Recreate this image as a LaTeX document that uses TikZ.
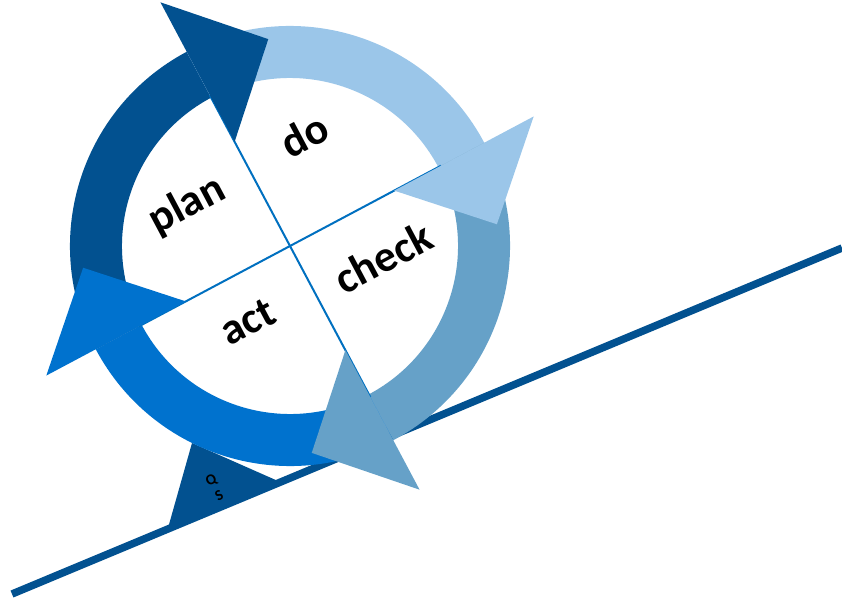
\documentclass[tikz,border=0pt]{standalone}
\usepackage{fontspec}
\setmainfont{Carlito}
\definecolor{plancol}{RGB}{2,81,144}
\definecolor{docol}{RGB}{155,198,233}
\definecolor{checkcol}{RGB}{102,161,200}
\definecolor{actcol}{RGB}{0,114,206}
\definecolor{crosscol}{RGB}{0,112,192}
\tikzset{
  word/.style={font=\fontsize{44}{44}\selectfont\bfseries, rotate=28, inner sep=0pt},
  crossline/.style={draw=crosscol, line width=2pt},
}
\begin{document}
\begin{tikzpicture}[x=1pt,y=1pt]
\useasboundingbox (0,0) rectangle (842,598);
% wedge under the cycle
\fill[plancol] (192,155) -- (168,70) -- (278,117) -- cycle;
% slope
\draw[plancol, line width=7.5pt] (12,4) -- (842,350);
\node[font=\fontsize{15}{18}\selectfont\bfseries, align=center, rotate=27, inner sep=0pt] (qs) at (215,110) {Q\\S};
\begin{scope}[shift={(290,352)}, rotate=28]
  \fill[white] (0,0) circle[radius=168];
  \foreach \b/\c in {90/plancol, 0/docol, -90/checkcol, 180/actcol}{
    \fill[\c] ({\b+90}:220) arc[start angle={\b+90}, end angle=\b, radius=220]
      -- (\b:168) arc[start angle=\b, end angle={\b+90}, radius=168] -- cycle;
  }
  \draw[crossline] (90:171) -- (270:171);
  \draw[crossline] (0:171) -- (180:171);
  \foreach \b/\c in {90/plancol, 0/docol, -90/checkcol, 180/actcol}{
    \fill[\c] (\b:118) -- (\b:276) -- ({\b-22}:208) -- cycle;
  }
  \node[word] (plan) at (-72,84) {plan};
  \node[word] (do) at (65,91) {do};
  \node[word] (check) at (77,-54) {check};
  \node[word] (act) at (-73,-47) {act};
\end{scope}
\end{tikzpicture}
\end{document}
